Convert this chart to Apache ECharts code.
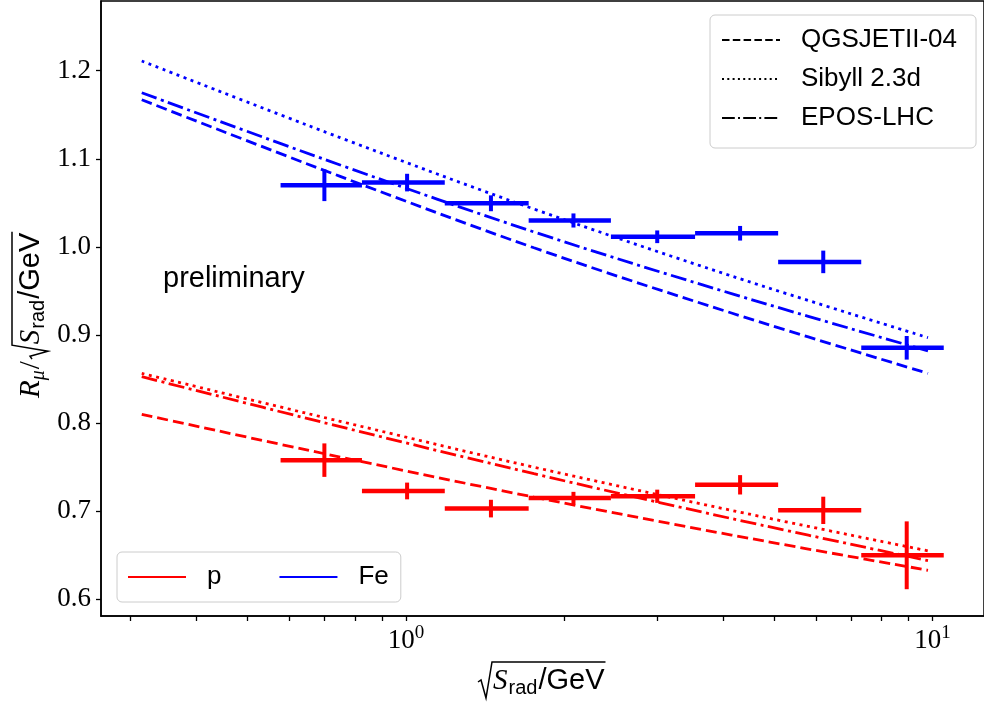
<!DOCTYPE html>
<html>
<head>
<meta charset="utf-8">
<script src="https://cdn.jsdelivr.net/npm/echarts@6/dist/echarts.min.js"></script>
<style>
  html, body { margin: 0; padding: 0; background: #fff; }
  #chart { width: 984px; height: 702px; }
</style>
</head>
<body>
<div id="chart"></div>
<script>
// bins in sqrt(S_rad)/GeV (log spaced)
const binCentres = [0.70, 1.005, 1.45, 2.08, 3.0, 4.31, 6.2, 8.93];
const binEdges = [0.578, 0.825, 1.185, 1.71, 2.45, 3.54, 5.09, 7.32, 10.5];

const protonValues = [0.758, 0.723, 0.703, 0.715, 0.717, 0.730, 0.701, 0.650];
const protonErrors = [0.019, 0.0095, 0.010, 0.007, 0.0075, 0.011, 0.0155, 0.0385];
const ironValues = [1.070, 1.073, 1.0495, 1.030, 1.0115, 1.0155, 0.983, 0.8855];
const ironErrors = [0.018, 0.010, 0.009, 0.008, 0.0072, 0.0083, 0.0128, 0.0134];

// model predictions
const modelX = [0.315, 0.75, 1.75, 4.15, 9.8];
const qgsIron = [1.167, 1.080, 0.999, 0.925, 0.8565];
const sibyllIron = [1.211, 1.124, 1.043, 0.967, 0.897];
const eposIron = [1.175, 1.093, 1.017, 0.947, 0.882];
const qgsProton = [0.810, 0.7615, 0.716, 0.673, 0.633];
const sibyllProton = [0.8565, 0.802, 0.750, 0.701, 0.655];
const eposProton = [0.8527, 0.796, 0.7426, 0.6917, 0.644];

const yTicks = [0.6, 0.7, 0.8, 0.9, 1.0, 1.1, 1.2];
const xMajorTicks = [1, 10];
const xMinorTicks = [0.3, 0.4, 0.5, 0.6, 0.7, 0.8, 0.9, 2, 3, 4, 5, 6, 7, 8, 9];
const xRange = [0.2636, 12.52];
const yRange = [0.5811, 1.2791];

const lg = Math.log10;
const RED = '#ff0000';
const BLUE = '#0000ff';
const DASHED = [11, 5];
const DOTTED = [3, 4.5];
const DASHDOT = [16, 4.5, 3, 4.5];

const chart = echarts.init(document.getElementById('chart'));

// text measuring for the hand built axis titles
const ctx2d = document.createElement('canvas').getContext('2d');
function metrics(text, font) {
  ctx2d.font = font;
  ctx2d.textBaseline = 'alphabetic';
  const a = ctx2d.measureText(text);
  ctx2d.textBaseline = 'middle';
  const m = ctx2d.measureText(text);
  return { width: a.width, middle: a.actualBoundingBoxAscent - m.actualBoundingBoxAscent };
}

function mathTitle(pieces) {
  const children = [];
  let x = 0, sqrtAt = null;
  pieces.forEach(p => {
    if (p === 'sqrt') { sqrtAt = x; x += 15; return; }
    const m = metrics(p.text, p.font);
    children.push({
      type: 'text', x: x, y: (p.dy || 0) - m.middle,
      style: { text: p.text, font: p.font, fill: '#000', align: 'left', verticalAlign: 'middle',
        textAlign: 'left', textVerticalAlign: 'middle' }
    });
    x += m.width + (p.after || 0);
  });
  if (sqrtAt !== null) {
    children.push({
      type: 'polyline',
      shape: { points: [[sqrtAt, -7], [sqrtAt + 3, -9], [sqrtAt + 8, 9], [sqrtAt + 14, -27], [x + 1, -27]] },
      style: { stroke: '#000', lineWidth: 1.5, fill: null }
    });
  }
  return children;
}

const serifIt = 'italic 29px "Liberation Serif"';
const sqrtPart = ['sqrt',
  { text: 'S', font: serifIt, after: 1 },
  { text: 'rad', font: '20px "Liberation Sans"', dy: 5, after: 1 },
  { text: '/GeV', font: '29px "Liberation Sans"' }];
const xTitle = sqrtPart;
const yTitle = [
  { text: 'R', font: serifIt },
  { text: 'μ', font: 'italic 20px "Liberation Serif"', dy: 5, after: 1 },
  { text: '/', font: '29px "Liberation Serif"', after: 2 }
].concat(sqrtPart);

function modelLine(name, ys, color, dash) {
  return {
    type: 'line', name: name, silent: true, z: 2,
    data: modelX.map((x, i) => [lg(x), ys[i]]),
    symbol: 'none', smooth: 0.35,
    lineStyle: { color: color, width: 2.8, type: dash, cap: 'butt' }
  };
}

function errorBars(name, values, errors, color) {
  return {
    type: 'custom', name: name, silent: true, z: 3,
    encode: { x: 0, y: 1 },
    data: values.map((v, i) => [lg(binCentres[i]), v, errors[i], lg(binEdges[i]), lg(binEdges[i + 1])]),
    renderItem: (params, api) => {
      const c = api.coord([api.value(0), api.value(1)]);
      const lo = api.coord([api.value(3), api.value(1)]);
      const hi = api.coord([api.value(4), api.value(1)]);
      const top = api.coord([api.value(0), api.value(1) + api.value(2)]);
      const bot = api.coord([api.value(0), api.value(1) - api.value(2)]);
      return {
        type: 'group', children: [
          { type: 'line', shape: { x1: lo[0], y1: c[1], x2: hi[0], y2: c[1] }, style: { stroke: color, lineWidth: 4.5 } },
          { type: 'line', shape: { x1: c[0], y1: top[1], x2: c[0], y2: bot[1] }, style: { stroke: color, lineWidth: 4 } }
        ]
      };
    }
  };
}

function legendSeries(name, color, dash) {
  return { type: 'line', name: name, data: [], symbol: 'none', color: color,
    lineStyle: { color: color, width: 2, type: dash } };
}

const legendBox = {
  selectedMode: false, itemWidth: 58, itemHeight: 14,
  backgroundColor: 'rgba(255,255,255,0.8)', borderColor: '#cccccc', borderWidth: 1, borderRadius: 5,
  textStyle: { fontFamily: 'Liberation Sans', fontSize: 26, color: '#000', lineHeight: 26, padding: [0, 0, 0, 16] },
  itemStyle: { color: 'rgba(0,0,0,0)', borderWidth: 0 }
};

chart.setOption({
  animation: false,
  backgroundColor: '#fff',
  grid: { left: 101, top: 1, width: 886, height: 615, show: true, borderColor: '#000', borderWidth: 1.5 },
  xAxis: {
    type: 'value', min: lg(xRange[0]), max: lg(xRange[1]),
    axisLine: { show: true, onZero: false, lineStyle: { color: '#000', width: 1.5 } },
    axisTick: { show: true, customValues: xMajorTicks.concat(xMinorTicks).map(lg), length: 5, lineStyle: { color: '#000', width: 1.3 } },
    axisLabel: {
      customValues: xMajorTicks.map(lg), margin: 8,
      formatter: v => '{b|10}{s|' + Math.round(v) + '}',
      rich: {
        b: { fontFamily: 'Liberation Serif', fontSize: 27, color: '#000', lineHeight: 30, verticalAlign: 'bottom' },
        s: { fontFamily: 'Liberation Serif', fontSize: 19, color: '#000', lineHeight: 20, verticalAlign: 'top' }
      }
    },
    splitLine: { show: false }
  },
  yAxis: {
    type: 'value', min: yRange[0], max: yRange[1],
    axisLine: { show: true, onZero: false, lineStyle: { color: '#000', width: 1.5 } },
    axisTick: { show: true, customValues: yTicks, length: 5, lineStyle: { color: '#000', width: 1.3 } },
    axisLabel: { customValues: yTicks, formatter: v => v.toFixed(1), margin: 10,
      fontFamily: 'Liberation Serif', fontSize: 27, color: '#000' },
    splitLine: { show: false }
  },
  legend: [
    Object.assign({}, legendBox, {
      orient: 'vertical', left: 710, top: 15, padding: [12, 19, 17, 11], itemGap: 13,
      data: [
        { name: 'QGSJETII-04', lineStyle: { color: '#000', width: 2, type: [7.5, 3.3] } },
        { name: 'Sibyll 2.3d', lineStyle: { color: '#000', width: 2, type: [2, 3.3] } },
        { name: 'EPOS-LHC', lineStyle: { color: '#000', width: 2, type: [12.8, 3.2, 2, 3.2] } }
      ]
    }),
    Object.assign({}, legendBox, {
      orient: 'horizontal', left: 117, top: 552, padding: [12, 12, 12, 10], itemGap: 57,
      data: [
        { name: 'p', lineStyle: { color: RED, width: 2, type: 'solid' } },
        { name: 'Fe', lineStyle: { color: BLUE, width: 2, type: 'solid' } }
      ]
    })
  ],
  graphic: [
    { type: 'group', x: 478, y: 689, children: mathTitle(xTitle) },
    { type: 'group', x: 39, y: 398, rotation: Math.PI / 2, children: mathTitle(yTitle) },
    { type: 'text', left: 163, top: 264, style: { text: 'preliminary', font: '29px "Liberation Sans"', fill: '#000' } }
  ],
  series: [
    modelLine('QGSJETII-04 Fe', qgsIron, BLUE, DASHED),
    modelLine('Sibyll 2.3d Fe', sibyllIron, BLUE, DOTTED),
    modelLine('EPOS-LHC Fe', eposIron, BLUE, DASHDOT),
    modelLine('QGSJETII-04 p', qgsProton, RED, DASHED),
    modelLine('Sibyll 2.3d p', sibyllProton, RED, DOTTED),
    modelLine('EPOS-LHC p', eposProton, RED, DASHDOT),
    errorBars('p data', protonValues, protonErrors, RED),
    errorBars('Fe data', ironValues, ironErrors, BLUE),
    legendSeries('QGSJETII-04', '#000', [7.5, 3.3]),
    legendSeries('Sibyll 2.3d', '#000', [2, 3.3]),
    legendSeries('EPOS-LHC', '#000', [12.8, 3.2, 2, 3.2]),
    legendSeries('p', RED, 'solid'),
    legendSeries('Fe', BLUE, 'solid')
  ]
});
</script>
</body>
</html>
